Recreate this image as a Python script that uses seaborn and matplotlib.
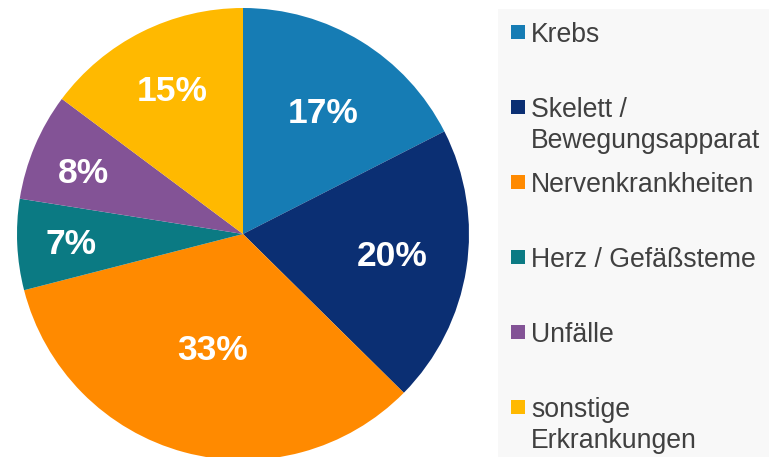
import numpy as np
import seaborn as sns
import matplotlib.pyplot as plt
from matplotlib.patches import Rectangle

# data
categories = ['Krebs', 'Skelett /\nBewegungsapparat', 'Nervenkrankheiten',
              'Herz / Gefäßsteme', 'Unfälle', 'sonstige\nErkrankungen']
shares = [17.5, 19.9, 33.6, 6.5, 7.7, 14.8]
pct_labels = ['17%', '20%', '33%', '7%', '8%', '15%']
colors_hex = ['#167CB4', '#0B2F73', '#FF8A00', '#0B7A83', '#835396', '#FFB900']

# label placement (fraction of radius, angle tweak in degrees), as in the reference
label_dist = [0.653, 0.664, 0.517, 0.762, 0.762, 0.718]
label_turn = [-1.3, 1.5, 0.2, -0.4, 1.1, -0.7]

sns.set_theme(style='white')
plt.rcParams['font.family'] = ['Liberation Sans', 'DejaVu Sans']

W, H = 769, 457
fig = plt.figure(figsize=(W / 100, H / 100), dpi=100)
fig.patch.set_facecolor('white')

# grey legend panel
fig.patches.append(Rectangle((498 / W, 0), 271 / W, 448 / H, transform=fig.transFigure,
                             facecolor='#F8F8F8', edgecolor='none', zorder=0))

# pie: centre (243, 234) px, radius 226 px
ax = fig.add_axes([17 / W, (H - 460) / H, 452 / W, 452 / H])
palette = sns.color_palette(colors_hex)
wedges, _ = ax.pie(shares, colors=palette, startangle=90, counterclock=False,
                   radius=1, wedgeprops=dict(linewidth=0))
ax.set_xlim(-1, 1)
ax.set_ylim(-1, 1)
ax.set_aspect('equal')
ax.axis('off')

pct_size = 25.5
half_cap = 0.716 * pct_size * 100 / 72 / 2 / 226   # half cap height in radius units
for w, lab, d, t in zip(wedges, pct_labels, label_dist, label_turn):
    ang = np.deg2rad((w.theta1 + w.theta2) / 2 + t)
    ax.text(d * np.cos(ang), d * np.sin(ang) - half_cap, lab, ha='center',
            va='baseline', color='white', fontsize=pct_size, fontweight='bold')

# legend, drawn by hand so the marker sits on the first line
for i, (lab, c) in enumerate(zip(categories, palette)):
    yc = 32 + 75 * i
    fig.patches.append(Rectangle((511 / W, 1 - (yc + 7) / H), 14 / W, 14 / H,
                                 transform=fig.transFigure, facecolor=c,
                                 edgecolor='none', zorder=2))
    for j, line in enumerate(lab.split('\n')):
        fig.text(531 / W, 1 - (yc + 9.7 + 31 * j) / H, line, ha='left', va='baseline',
                 fontsize=19.2, color='#404040')

fig.savefig('out.png', dpi=100)
